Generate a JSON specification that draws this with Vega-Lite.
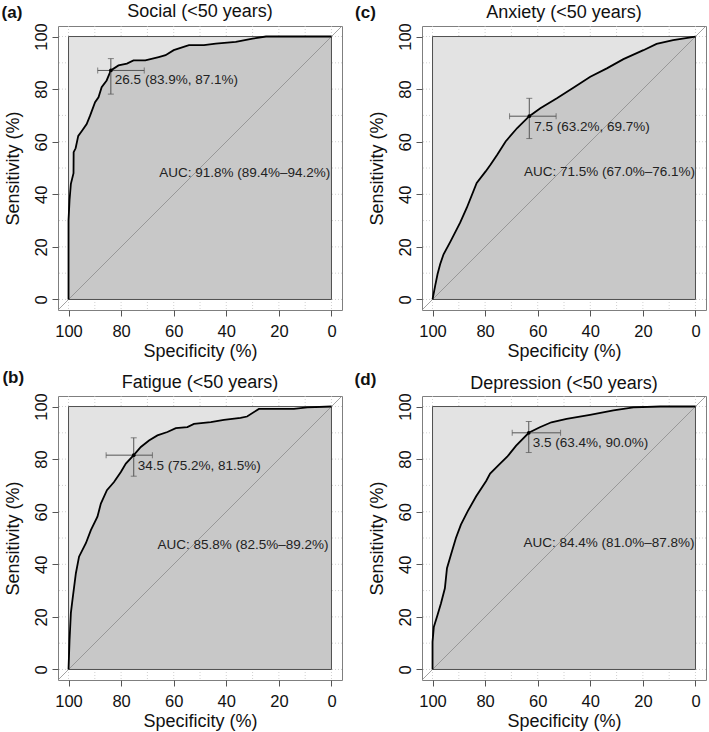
{
"$schema": "https://vega.github.io/schema/vega-lite/v6.json",
"padding": {"left": 1, "top": 2, "right": 0, "bottom": 0},
"background": "white",
"columns": 2,
"bounds": "flush",
"spacing": {"row": 86, "column": 80},
"datasets": {
"grid": [{"v":0},{"v":10},{"v":20},{"v":30},{"v":40},{"v":50},{"v":60},{"v":70},{"v":80},{"v":90},{"v":100}],
"meta": [
{"panel":"a","name":"Social (<50 years)","letter":"(a)","auc":"AUC: 91.8% (89.4%–94.2%)"},
{"panel":"b","name":"Fatigue (<50 years)","letter":"(b)","auc":"AUC: 85.8% (82.5%–89.2%)"},
{"panel":"c","name":"Anxiety (<50 years)","letter":"(c)","auc":"AUC: 71.5% (67.0%–76.1%)"},
{"panel":"d","name":"Depression (<50 years)","letter":"(d)","auc":"AUC: 84.4% (81.0%–87.8%)"}
],
"thr": [
{"panel":"a","spec":83.9,"sens":87.1,"spec_lo":71.2,"spec_hi":88.9,"sens_lo":78.1,"sens_hi":91.6,"label":"26.5 (83.9%, 87.1%)"},
{"panel":"b","spec":75.2,"sens":81.5,"spec_lo":68.1,"spec_hi":85.7,"sens_lo":73.5,"sens_hi":88.1,"label":"34.5 (75.2%, 81.5%)"},
{"panel":"c","spec":63.2,"sens":69.7,"spec_lo":53.0,"spec_hi":70.7,"sens_lo":61.2,"sens_hi":76.5,"label":"7.5 (63.2%, 69.7%)"},
{"panel":"d","spec":63.4,"sens":90.0,"spec_lo":51.3,"spec_hi":69.7,"sens_lo":82.5,"sens_hi":94.3,"label":"3.5 (63.4%, 90.0%)"}
],
"roc": [
{"panel":"a","i":0,"spec":100,"sens":0},{"panel":"a","i":1,"spec":100,"sens":30},{"panel":"a","i":2,"spec":99.6,"sens":38},{"panel":"a","i":3,"spec":99.1,"sens":44},{"panel":"a","i":4,"spec":98.1,"sens":48},{"panel":"a","i":5,"spec":98.05,"sens":56},{"panel":"a","i":6,"spec":97.3,"sens":57.5},{"panel":"a","i":7,"spec":96.3,"sens":62.2},{"panel":"a","i":8,"spec":95,"sens":64},{"panel":"a","i":9,"spec":93.1,"sens":66.7},{"panel":"a","i":10,"spec":91.8,"sens":69.9},{"panel":"a","i":11,"spec":89.9,"sens":75},{"panel":"a","i":12,"spec":88.6,"sens":76.9},{"panel":"a","i":13,"spec":87.4,"sens":80.7},{"panel":"a","i":14,"spec":85.5,"sens":83.3},{"panel":"a","i":15,"spec":83.9,"sens":87.1},{"panel":"a","i":16,"spec":81,"sens":89},{"panel":"a","i":17,"spec":77.8,"sens":89.7},{"panel":"a","i":18,"spec":75.3,"sens":90.9},{"panel":"a","i":19,"spec":70.8,"sens":90.9},{"panel":"a","i":20,"spec":65.7,"sens":92.2},{"panel":"a","i":21,"spec":63.1,"sens":92.9},{"panel":"a","i":22,"spec":60,"sens":94.8},{"panel":"a","i":23,"spec":54.2,"sens":96.7},{"panel":"a","i":24,"spec":48.5,"sens":96.7},{"panel":"a","i":25,"spec":44,"sens":97.3},{"panel":"a","i":26,"spec":36.4,"sens":98},{"panel":"a","i":27,"spec":30,"sens":99.2},{"panel":"a","i":28,"spec":24.9,"sens":100},{"panel":"a","i":29,"spec":0,"sens":100},
{"panel":"c","i":0,"spec":100,"sens":0},{"panel":"c","i":1,"spec":99,"sens":5.2},{"panel":"c","i":2,"spec":98.1,"sens":9.6},{"panel":"c","i":3,"spec":97.1,"sens":13.4},{"panel":"c","i":4,"spec":95.8,"sens":17.2},{"panel":"c","i":5,"spec":93.1,"sens":22.2},{"panel":"c","i":6,"spec":89.5,"sens":29.2},{"panel":"c","i":7,"spec":87,"sens":34.8},{"panel":"c","i":8,"spec":83.2,"sens":44.3},{"panel":"c","i":9,"spec":79.8,"sens":48.7},{"panel":"c","i":10,"spec":77.9,"sens":51.3},{"panel":"c","i":11,"spec":75.4,"sens":55},{"panel":"c","i":12,"spec":72.2,"sens":60.1},{"panel":"c","i":13,"spec":67.8,"sens":65.2},{"panel":"c","i":14,"spec":63.2,"sens":69.7},{"panel":"c","i":15,"spec":59,"sens":72.7},{"panel":"c","i":16,"spec":52.7,"sens":76.5},{"panel":"c","i":17,"spec":46.3,"sens":80.6},{"panel":"c","i":18,"spec":40,"sens":84.7},{"panel":"c","i":19,"spec":33.7,"sens":87.9},{"panel":"c","i":20,"spec":27.4,"sens":91.4},{"panel":"c","i":21,"spec":19.8,"sens":94.8},{"panel":"c","i":22,"spec":14.8,"sens":97.2},{"panel":"c","i":23,"spec":8.5,"sens":98.6},{"panel":"c","i":24,"spec":0,"sens":100},
{"panel":"b","i":0,"spec":100,"sens":0},{"panel":"b","i":1,"spec":99.6,"sens":11.4},{"panel":"b","i":2,"spec":99.1,"sens":21.5},{"panel":"b","i":3,"spec":98.5,"sens":26.5},{"panel":"b","i":4,"spec":97.2,"sens":36.6},{"panel":"b","i":5,"spec":96,"sens":42.9},{"panel":"b","i":6,"spec":93.4,"sens":48},{"panel":"b","i":7,"spec":91.5,"sens":53},{"panel":"b","i":8,"spec":89,"sens":58.1},{"panel":"b","i":9,"spec":87.7,"sens":63.1},{"panel":"b","i":10,"spec":85.4,"sens":68.2},{"panel":"b","i":11,"spec":82.7,"sens":71.3},{"panel":"b","i":12,"spec":80.1,"sens":75.1},{"panel":"b","i":13,"spec":78.2,"sens":78.3},{"panel":"b","i":14,"spec":75.2,"sens":81.5},{"panel":"b","i":15,"spec":72.5,"sens":84.6},{"panel":"b","i":16,"spec":69.4,"sens":87.1},{"panel":"b","i":17,"spec":66.2,"sens":89},{"panel":"b","i":18,"spec":62.4,"sens":90.3},{"panel":"b","i":19,"spec":59.2,"sens":91.8},{"panel":"b","i":20,"spec":54.8,"sens":92.2},{"panel":"b","i":21,"spec":52.3,"sens":93.4},{"panel":"b","i":22,"spec":45.9,"sens":94.1},{"panel":"b","i":23,"spec":40.9,"sens":94.9},{"panel":"b","i":24,"spec":34.6,"sens":95.7},{"panel":"b","i":25,"spec":32.1,"sens":96.2},{"panel":"b","i":26,"spec":27.6,"sens":99.1},{"panel":"b","i":27,"spec":14.3,"sens":99.1},{"panel":"b","i":28,"spec":9.2,"sens":99.7},{"panel":"b","i":29,"spec":0,"sens":100},
{"panel":"d","i":0,"spec":100,"sens":0},{"panel":"d","i":1,"spec":100,"sens":10.5},{"panel":"d","i":2,"spec":99.5,"sens":16.2},{"panel":"d","i":3,"spec":98.1,"sens":20.7},{"panel":"d","i":4,"spec":96.8,"sens":25.1},{"panel":"d","i":5,"spec":95.3,"sens":30.9},{"panel":"d","i":6,"spec":94.5,"sens":38.5},{"panel":"d","i":7,"spec":93,"sens":43.6},{"panel":"d","i":8,"spec":91.1,"sens":50},{"panel":"d","i":9,"spec":89.2,"sens":55.1},{"panel":"d","i":10,"spec":86.6,"sens":60.2},{"panel":"d","i":11,"spec":83.4,"sens":65.9},{"panel":"d","i":12,"spec":79.6,"sens":71.7},{"panel":"d","i":13,"spec":78.1,"sens":74.5},{"panel":"d","i":14,"spec":74.5,"sens":78.1},{"panel":"d","i":15,"spec":71.6,"sens":80.9},{"panel":"d","i":16,"spec":68.2,"sens":85.1},{"panel":"d","i":17,"spec":63.4,"sens":90},{"panel":"d","i":18,"spec":59.2,"sens":92.1},{"panel":"d","i":19,"spec":54.8,"sens":94},{"panel":"d","i":20,"spec":49,"sens":95.3},{"panel":"d","i":21,"spec":40.1,"sens":96.8},{"panel":"d","i":22,"spec":31.2,"sens":98.5},{"panel":"d","i":23,"spec":23.6,"sens":99.7},{"panel":"d","i":24,"spec":13.4,"sens":100},{"panel":"d","i":25,"spec":0,"sens":100}
]
},
"concat": [
{"width": 284, "height": 284,
"layer": [
{"data": {"name": "grid"}, "mark": {"type": "rule", "color": "#c4c4c4", "strokeDash": [1, 2], "strokeWidth": 0.8}, "encoding": {"x": {"field": "v", "type": "quantitative", "title": "Specificity (%)", "scale": {"domain": [-4, 104], "reverse": true, "nice": false, "zero": false}, "axis": {"values": [0, 20, 40, 60, 80, 100]}}}},
{"data": {"name": "grid"}, "mark": {"type": "rule", "color": "#c4c4c4", "strokeDash": [1, 2], "strokeWidth": 0.8}, "encoding": {"y": {"field": "v", "type": "quantitative", "title": "Sensitivity (%)", "scale": {"domain": [-4, 104], "nice": false, "zero": false}, "axis": {"values": [0, 20, 40, 60, 80, 100]}}}},
{"data": {"name": "meta"}, "transform": [{"filter": "datum.panel === 'a'"}], "mark": {"type": "rect", "fill": "#e3e3e3"}, "encoding": {"x": {"datum": 0}, "x2": {"datum": 100}, "y": {"datum": 0}, "y2": {"datum": 100}}},
{"data": {"name": "roc"}, "transform": [{"filter": "datum.panel === 'a'"}], "mark": {"type": "area", "fill": "#c8c8c8"}, "encoding": {"x": {"field": "spec", "type": "quantitative", "title": "Specificity (%)"}, "y": {"field": "sens", "type": "quantitative", "title": "Sensitivity (%)"}, "y2": {"datum": 0}}},
{"data": {"name": "meta"}, "transform": [{"filter": "datum.panel === 'a'"}], "mark": {"type": "rect", "fillOpacity": 0, "stroke": "#505050", "strokeWidth": 1}, "encoding": {"x": {"datum": 0}, "x2": {"datum": 100}, "y": {"datum": 0}, "y2": {"datum": 100}}},
{"data": {"name": "meta"}, "transform": [{"filter": "datum.panel === 'a'"}], "mark": {"type": "rule", "color": "#8c8c8c", "strokeWidth": 0.8}, "encoding": {"x": {"datum": 104}, "y": {"datum": -4}, "x2": {"datum": -4}, "y2": {"datum": 104}}},
{"data": {"name": "roc"}, "transform": [{"filter": "datum.panel === 'a'"}], "mark": {"type": "line", "color": "black", "strokeWidth": 1.8}, "encoding": {"x": {"field": "spec", "type": "quantitative", "title": "Specificity (%)"}, "y": {"field": "sens", "type": "quantitative", "title": "Sensitivity (%)"}, "order": {"field": "i", "type": "quantitative"}}},
{"data": {"name": "thr"}, "transform": [{"filter": "datum.panel === 'a'"}], "mark": {"type": "rule", "color": "#555555", "strokeWidth": 1}, "encoding": {"x": {"field": "spec_lo", "type": "quantitative", "title": "Specificity (%)"}, "x2": {"field": "spec_hi"}, "y": {"field": "sens", "type": "quantitative", "title": "Sensitivity (%)"}}},
{"data": {"name": "thr"}, "transform": [{"filter": "datum.panel === 'a'"}], "mark": {"type": "rule", "color": "#555555", "strokeWidth": 1}, "encoding": {"x": {"field": "spec", "type": "quantitative", "title": "Specificity (%)"}, "y": {"field": "sens_lo", "type": "quantitative", "title": "Sensitivity (%)"}, "y2": {"field": "sens_hi"}}},
{"data": {"name": "thr"}, "transform": [{"filter": "datum.panel === 'a'"}], "mark": {"type": "tick", "orient": "vertical", "color": "#555555", "size": 6, "thickness": 1}, "encoding": {"x": {"field": "spec_lo", "type": "quantitative", "title": "Specificity (%)"}, "y": {"field": "sens", "type": "quantitative", "title": "Sensitivity (%)"}}},
{"data": {"name": "thr"}, "transform": [{"filter": "datum.panel === 'a'"}], "mark": {"type": "tick", "orient": "vertical", "color": "#555555", "size": 6, "thickness": 1}, "encoding": {"x": {"field": "spec_hi", "type": "quantitative", "title": "Specificity (%)"}, "y": {"field": "sens", "type": "quantitative", "title": "Sensitivity (%)"}}},
{"data": {"name": "thr"}, "transform": [{"filter": "datum.panel === 'a'"}], "mark": {"type": "tick", "orient": "horizontal", "color": "#555555", "size": 6, "thickness": 1}, "encoding": {"x": {"field": "spec", "type": "quantitative", "title": "Specificity (%)"}, "y": {"field": "sens_lo", "type": "quantitative", "title": "Sensitivity (%)"}}},
{"data": {"name": "thr"}, "transform": [{"filter": "datum.panel === 'a'"}], "mark": {"type": "tick", "orient": "horizontal", "color": "#555555", "size": 6, "thickness": 1}, "encoding": {"x": {"field": "spec", "type": "quantitative", "title": "Specificity (%)"}, "y": {"field": "sens_hi", "type": "quantitative", "title": "Sensitivity (%)"}}},
{"data": {"name": "thr"}, "transform": [{"filter": "datum.panel === 'a'"}], "mark": {"type": "point", "filled": true, "color": "black", "size": 14, "opacity": 1}, "encoding": {"x": {"field": "spec", "type": "quantitative", "title": "Specificity (%)"}, "y": {"field": "sens", "type": "quantitative", "title": "Sensitivity (%)"}}},
{"data": {"name": "thr"}, "transform": [{"filter": "datum.panel === 'a'"}], "mark": {"type": "text", "align": "left", "baseline": "middle", "dx": 4, "dy": 10, "fontSize": 13.5, "color": "#222222"}, "encoding": {"x": {"field": "spec", "type": "quantitative", "title": "Specificity (%)"}, "y": {"field": "sens", "type": "quantitative", "title": "Sensitivity (%)"}, "text": {"field": "label"}}},
{"data": {"name": "meta"}, "transform": [{"filter": "datum.panel === 'a'"}], "mark": {"type": "text", "align": "left", "baseline": "middle", "fontSize": 13.5, "color": "#222222"}, "encoding": {"x": {"datum": 65.5}, "y": {"datum": 48}, "text": {"field": "auc"}}},
{"data": {"name": "meta"}, "transform": [{"filter": "datum.panel === 'a'"}], "mark": {"type": "text", "align": "center", "baseline": "middle", "fontSize": 18, "color": "#111111"}, "encoding": {"x": {"datum": 50}, "y": {"datum": 109.2}, "text": {"field": "name"}}},
{"data": {"name": "meta"}, "transform": [{"filter": "datum.panel === 'a'"}], "mark": {"type": "text", "align": "center", "baseline": "middle", "fontSize": 17, "fontWeight": "bold", "color": "#111111"}, "encoding": {"x": {"datum": 121.5}, "y": {"datum": 108.8}, "text": {"field": "letter"}}}
]},
{"width": 284, "height": 284,
"layer": [
{"data": {"name": "grid"}, "mark": {"type": "rule", "color": "#c4c4c4", "strokeDash": [1, 2], "strokeWidth": 0.8}, "encoding": {"x": {"field": "v", "type": "quantitative", "title": "Specificity (%)", "scale": {"domain": [-4, 104], "reverse": true, "nice": false, "zero": false}, "axis": {"values": [0, 20, 40, 60, 80, 100]}}}},
{"data": {"name": "grid"}, "mark": {"type": "rule", "color": "#c4c4c4", "strokeDash": [1, 2], "strokeWidth": 0.8}, "encoding": {"y": {"field": "v", "type": "quantitative", "title": "Sensitivity (%)", "scale": {"domain": [-4, 104], "nice": false, "zero": false}, "axis": {"values": [0, 20, 40, 60, 80, 100]}}}},
{"data": {"name": "meta"}, "transform": [{"filter": "datum.panel === 'c'"}], "mark": {"type": "rect", "fill": "#e3e3e3"}, "encoding": {"x": {"datum": 0}, "x2": {"datum": 100}, "y": {"datum": 0}, "y2": {"datum": 100}}},
{"data": {"name": "roc"}, "transform": [{"filter": "datum.panel === 'c'"}], "mark": {"type": "area", "fill": "#c8c8c8"}, "encoding": {"x": {"field": "spec", "type": "quantitative", "title": "Specificity (%)"}, "y": {"field": "sens", "type": "quantitative", "title": "Sensitivity (%)"}, "y2": {"datum": 0}}},
{"data": {"name": "meta"}, "transform": [{"filter": "datum.panel === 'c'"}], "mark": {"type": "rect", "fillOpacity": 0, "stroke": "#505050", "strokeWidth": 1}, "encoding": {"x": {"datum": 0}, "x2": {"datum": 100}, "y": {"datum": 0}, "y2": {"datum": 100}}},
{"data": {"name": "meta"}, "transform": [{"filter": "datum.panel === 'c'"}], "mark": {"type": "rule", "color": "#8c8c8c", "strokeWidth": 0.8}, "encoding": {"x": {"datum": 104}, "y": {"datum": -4}, "x2": {"datum": -4}, "y2": {"datum": 104}}},
{"data": {"name": "roc"}, "transform": [{"filter": "datum.panel === 'c'"}], "mark": {"type": "line", "color": "black", "strokeWidth": 1.8}, "encoding": {"x": {"field": "spec", "type": "quantitative", "title": "Specificity (%)"}, "y": {"field": "sens", "type": "quantitative", "title": "Sensitivity (%)"}, "order": {"field": "i", "type": "quantitative"}}},
{"data": {"name": "thr"}, "transform": [{"filter": "datum.panel === 'c'"}], "mark": {"type": "rule", "color": "#555555", "strokeWidth": 1}, "encoding": {"x": {"field": "spec_lo", "type": "quantitative", "title": "Specificity (%)"}, "x2": {"field": "spec_hi"}, "y": {"field": "sens", "type": "quantitative", "title": "Sensitivity (%)"}}},
{"data": {"name": "thr"}, "transform": [{"filter": "datum.panel === 'c'"}], "mark": {"type": "rule", "color": "#555555", "strokeWidth": 1}, "encoding": {"x": {"field": "spec", "type": "quantitative", "title": "Specificity (%)"}, "y": {"field": "sens_lo", "type": "quantitative", "title": "Sensitivity (%)"}, "y2": {"field": "sens_hi"}}},
{"data": {"name": "thr"}, "transform": [{"filter": "datum.panel === 'c'"}], "mark": {"type": "tick", "orient": "vertical", "color": "#555555", "size": 6, "thickness": 1}, "encoding": {"x": {"field": "spec_lo", "type": "quantitative", "title": "Specificity (%)"}, "y": {"field": "sens", "type": "quantitative", "title": "Sensitivity (%)"}}},
{"data": {"name": "thr"}, "transform": [{"filter": "datum.panel === 'c'"}], "mark": {"type": "tick", "orient": "vertical", "color": "#555555", "size": 6, "thickness": 1}, "encoding": {"x": {"field": "spec_hi", "type": "quantitative", "title": "Specificity (%)"}, "y": {"field": "sens", "type": "quantitative", "title": "Sensitivity (%)"}}},
{"data": {"name": "thr"}, "transform": [{"filter": "datum.panel === 'c'"}], "mark": {"type": "tick", "orient": "horizontal", "color": "#555555", "size": 6, "thickness": 1}, "encoding": {"x": {"field": "spec", "type": "quantitative", "title": "Specificity (%)"}, "y": {"field": "sens_lo", "type": "quantitative", "title": "Sensitivity (%)"}}},
{"data": {"name": "thr"}, "transform": [{"filter": "datum.panel === 'c'"}], "mark": {"type": "tick", "orient": "horizontal", "color": "#555555", "size": 6, "thickness": 1}, "encoding": {"x": {"field": "spec", "type": "quantitative", "title": "Specificity (%)"}, "y": {"field": "sens_hi", "type": "quantitative", "title": "Sensitivity (%)"}}},
{"data": {"name": "thr"}, "transform": [{"filter": "datum.panel === 'c'"}], "mark": {"type": "point", "filled": true, "color": "black", "size": 14, "opacity": 1}, "encoding": {"x": {"field": "spec", "type": "quantitative", "title": "Specificity (%)"}, "y": {"field": "sens", "type": "quantitative", "title": "Sensitivity (%)"}}},
{"data": {"name": "thr"}, "transform": [{"filter": "datum.panel === 'c'"}], "mark": {"type": "text", "align": "left", "baseline": "middle", "dx": 5, "dy": 11, "fontSize": 13.5, "color": "#222222"}, "encoding": {"x": {"field": "spec", "type": "quantitative", "title": "Specificity (%)"}, "y": {"field": "sens", "type": "quantitative", "title": "Sensitivity (%)"}, "text": {"field": "label"}}},
{"data": {"name": "meta"}, "transform": [{"filter": "datum.panel === 'c'"}], "mark": {"type": "text", "align": "left", "baseline": "middle", "fontSize": 13.5, "color": "#222222"}, "encoding": {"x": {"datum": 65.2}, "y": {"datum": 48.5}, "text": {"field": "auc"}}},
{"data": {"name": "meta"}, "transform": [{"filter": "datum.panel === 'c'"}], "mark": {"type": "text", "align": "center", "baseline": "middle", "fontSize": 18, "color": "#111111"}, "encoding": {"x": {"datum": 50}, "y": {"datum": 109}, "text": {"field": "name"}}},
{"data": {"name": "meta"}, "transform": [{"filter": "datum.panel === 'c'"}], "mark": {"type": "text", "align": "center", "baseline": "middle", "fontSize": 17, "fontWeight": "bold", "color": "#111111"}, "encoding": {"x": {"datum": 125.5}, "y": {"datum": 108.8}, "text": {"field": "letter"}}}
]},
{"width": 284, "height": 284,
"layer": [
{"data": {"name": "grid"}, "mark": {"type": "rule", "color": "#c4c4c4", "strokeDash": [1, 2], "strokeWidth": 0.8}, "encoding": {"x": {"field": "v", "type": "quantitative", "title": "Specificity (%)", "scale": {"domain": [-4, 104], "reverse": true, "nice": false, "zero": false}, "axis": {"values": [0, 20, 40, 60, 80, 100]}}}},
{"data": {"name": "grid"}, "mark": {"type": "rule", "color": "#c4c4c4", "strokeDash": [1, 2], "strokeWidth": 0.8}, "encoding": {"y": {"field": "v", "type": "quantitative", "title": "Sensitivity (%)", "scale": {"domain": [-4, 104], "nice": false, "zero": false}, "axis": {"values": [0, 20, 40, 60, 80, 100]}}}},
{"data": {"name": "meta"}, "transform": [{"filter": "datum.panel === 'b'"}], "mark": {"type": "rect", "fill": "#e3e3e3"}, "encoding": {"x": {"datum": 0}, "x2": {"datum": 100}, "y": {"datum": 0}, "y2": {"datum": 100}}},
{"data": {"name": "roc"}, "transform": [{"filter": "datum.panel === 'b'"}], "mark": {"type": "area", "fill": "#c8c8c8"}, "encoding": {"x": {"field": "spec", "type": "quantitative", "title": "Specificity (%)"}, "y": {"field": "sens", "type": "quantitative", "title": "Sensitivity (%)"}, "y2": {"datum": 0}}},
{"data": {"name": "meta"}, "transform": [{"filter": "datum.panel === 'b'"}], "mark": {"type": "rect", "fillOpacity": 0, "stroke": "#505050", "strokeWidth": 1}, "encoding": {"x": {"datum": 0}, "x2": {"datum": 100}, "y": {"datum": 0}, "y2": {"datum": 100}}},
{"data": {"name": "meta"}, "transform": [{"filter": "datum.panel === 'b'"}], "mark": {"type": "rule", "color": "#8c8c8c", "strokeWidth": 0.8}, "encoding": {"x": {"datum": 104}, "y": {"datum": -4}, "x2": {"datum": -4}, "y2": {"datum": 104}}},
{"data": {"name": "roc"}, "transform": [{"filter": "datum.panel === 'b'"}], "mark": {"type": "line", "color": "black", "strokeWidth": 1.8}, "encoding": {"x": {"field": "spec", "type": "quantitative", "title": "Specificity (%)"}, "y": {"field": "sens", "type": "quantitative", "title": "Sensitivity (%)"}, "order": {"field": "i", "type": "quantitative"}}},
{"data": {"name": "thr"}, "transform": [{"filter": "datum.panel === 'b'"}], "mark": {"type": "rule", "color": "#555555", "strokeWidth": 1}, "encoding": {"x": {"field": "spec_lo", "type": "quantitative", "title": "Specificity (%)"}, "x2": {"field": "spec_hi"}, "y": {"field": "sens", "type": "quantitative", "title": "Sensitivity (%)"}}},
{"data": {"name": "thr"}, "transform": [{"filter": "datum.panel === 'b'"}], "mark": {"type": "rule", "color": "#555555", "strokeWidth": 1}, "encoding": {"x": {"field": "spec", "type": "quantitative", "title": "Specificity (%)"}, "y": {"field": "sens_lo", "type": "quantitative", "title": "Sensitivity (%)"}, "y2": {"field": "sens_hi"}}},
{"data": {"name": "thr"}, "transform": [{"filter": "datum.panel === 'b'"}], "mark": {"type": "tick", "orient": "vertical", "color": "#555555", "size": 6, "thickness": 1}, "encoding": {"x": {"field": "spec_lo", "type": "quantitative", "title": "Specificity (%)"}, "y": {"field": "sens", "type": "quantitative", "title": "Sensitivity (%)"}}},
{"data": {"name": "thr"}, "transform": [{"filter": "datum.panel === 'b'"}], "mark": {"type": "tick", "orient": "vertical", "color": "#555555", "size": 6, "thickness": 1}, "encoding": {"x": {"field": "spec_hi", "type": "quantitative", "title": "Specificity (%)"}, "y": {"field": "sens", "type": "quantitative", "title": "Sensitivity (%)"}}},
{"data": {"name": "thr"}, "transform": [{"filter": "datum.panel === 'b'"}], "mark": {"type": "tick", "orient": "horizontal", "color": "#555555", "size": 6, "thickness": 1}, "encoding": {"x": {"field": "spec", "type": "quantitative", "title": "Specificity (%)"}, "y": {"field": "sens_lo", "type": "quantitative", "title": "Sensitivity (%)"}}},
{"data": {"name": "thr"}, "transform": [{"filter": "datum.panel === 'b'"}], "mark": {"type": "tick", "orient": "horizontal", "color": "#555555", "size": 6, "thickness": 1}, "encoding": {"x": {"field": "spec", "type": "quantitative", "title": "Specificity (%)"}, "y": {"field": "sens_hi", "type": "quantitative", "title": "Sensitivity (%)"}}},
{"data": {"name": "thr"}, "transform": [{"filter": "datum.panel === 'b'"}], "mark": {"type": "point", "filled": true, "color": "black", "size": 14, "opacity": 1}, "encoding": {"x": {"field": "spec", "type": "quantitative", "title": "Specificity (%)"}, "y": {"field": "sens", "type": "quantitative", "title": "Sensitivity (%)"}}},
{"data": {"name": "thr"}, "transform": [{"filter": "datum.panel === 'b'"}], "mark": {"type": "text", "align": "left", "baseline": "middle", "dx": 4, "dy": 11, "fontSize": 13.5, "color": "#222222"}, "encoding": {"x": {"field": "spec", "type": "quantitative", "title": "Specificity (%)"}, "y": {"field": "sens", "type": "quantitative", "title": "Sensitivity (%)"}, "text": {"field": "label"}}},
{"data": {"name": "meta"}, "transform": [{"filter": "datum.panel === 'b'"}], "mark": {"type": "text", "align": "left", "baseline": "middle", "fontSize": 13.5, "color": "#222222"}, "encoding": {"x": {"datum": 66.2}, "y": {"datum": 47.3}, "text": {"field": "auc"}}},
{"data": {"name": "meta"}, "transform": [{"filter": "datum.panel === 'b'"}], "mark": {"type": "text", "align": "center", "baseline": "middle", "fontSize": 18, "color": "#111111"}, "encoding": {"x": {"datum": 50}, "y": {"datum": 109}, "text": {"field": "name"}}},
{"data": {"name": "meta"}, "transform": [{"filter": "datum.panel === 'b'"}], "mark": {"type": "text", "align": "center", "baseline": "middle", "fontSize": 17, "fontWeight": "bold", "color": "#111111"}, "encoding": {"x": {"datum": 121}, "y": {"datum": 110.8}, "text": {"field": "letter"}}}
]},
{"width": 284, "height": 284,
"layer": [
{"data": {"name": "grid"}, "mark": {"type": "rule", "color": "#c4c4c4", "strokeDash": [1, 2], "strokeWidth": 0.8}, "encoding": {"x": {"field": "v", "type": "quantitative", "title": "Specificity (%)", "scale": {"domain": [-4, 104], "reverse": true, "nice": false, "zero": false}, "axis": {"values": [0, 20, 40, 60, 80, 100]}}}},
{"data": {"name": "grid"}, "mark": {"type": "rule", "color": "#c4c4c4", "strokeDash": [1, 2], "strokeWidth": 0.8}, "encoding": {"y": {"field": "v", "type": "quantitative", "title": "Sensitivity (%)", "scale": {"domain": [-4, 104], "nice": false, "zero": false}, "axis": {"values": [0, 20, 40, 60, 80, 100]}}}},
{"data": {"name": "meta"}, "transform": [{"filter": "datum.panel === 'd'"}], "mark": {"type": "rect", "fill": "#e3e3e3"}, "encoding": {"x": {"datum": 0}, "x2": {"datum": 100}, "y": {"datum": 0}, "y2": {"datum": 100}}},
{"data": {"name": "roc"}, "transform": [{"filter": "datum.panel === 'd'"}], "mark": {"type": "area", "fill": "#c8c8c8"}, "encoding": {"x": {"field": "spec", "type": "quantitative", "title": "Specificity (%)"}, "y": {"field": "sens", "type": "quantitative", "title": "Sensitivity (%)"}, "y2": {"datum": 0}}},
{"data": {"name": "meta"}, "transform": [{"filter": "datum.panel === 'd'"}], "mark": {"type": "rect", "fillOpacity": 0, "stroke": "#505050", "strokeWidth": 1}, "encoding": {"x": {"datum": 0}, "x2": {"datum": 100}, "y": {"datum": 0}, "y2": {"datum": 100}}},
{"data": {"name": "meta"}, "transform": [{"filter": "datum.panel === 'd'"}], "mark": {"type": "rule", "color": "#8c8c8c", "strokeWidth": 0.8}, "encoding": {"x": {"datum": 104}, "y": {"datum": -4}, "x2": {"datum": -4}, "y2": {"datum": 104}}},
{"data": {"name": "roc"}, "transform": [{"filter": "datum.panel === 'd'"}], "mark": {"type": "line", "color": "black", "strokeWidth": 1.8}, "encoding": {"x": {"field": "spec", "type": "quantitative", "title": "Specificity (%)"}, "y": {"field": "sens", "type": "quantitative", "title": "Sensitivity (%)"}, "order": {"field": "i", "type": "quantitative"}}},
{"data": {"name": "thr"}, "transform": [{"filter": "datum.panel === 'd'"}], "mark": {"type": "rule", "color": "#555555", "strokeWidth": 1}, "encoding": {"x": {"field": "spec_lo", "type": "quantitative", "title": "Specificity (%)"}, "x2": {"field": "spec_hi"}, "y": {"field": "sens", "type": "quantitative", "title": "Sensitivity (%)"}}},
{"data": {"name": "thr"}, "transform": [{"filter": "datum.panel === 'd'"}], "mark": {"type": "rule", "color": "#555555", "strokeWidth": 1}, "encoding": {"x": {"field": "spec", "type": "quantitative", "title": "Specificity (%)"}, "y": {"field": "sens_lo", "type": "quantitative", "title": "Sensitivity (%)"}, "y2": {"field": "sens_hi"}}},
{"data": {"name": "thr"}, "transform": [{"filter": "datum.panel === 'd'"}], "mark": {"type": "tick", "orient": "vertical", "color": "#555555", "size": 6, "thickness": 1}, "encoding": {"x": {"field": "spec_lo", "type": "quantitative", "title": "Specificity (%)"}, "y": {"field": "sens", "type": "quantitative", "title": "Sensitivity (%)"}}},
{"data": {"name": "thr"}, "transform": [{"filter": "datum.panel === 'd'"}], "mark": {"type": "tick", "orient": "vertical", "color": "#555555", "size": 6, "thickness": 1}, "encoding": {"x": {"field": "spec_hi", "type": "quantitative", "title": "Specificity (%)"}, "y": {"field": "sens", "type": "quantitative", "title": "Sensitivity (%)"}}},
{"data": {"name": "thr"}, "transform": [{"filter": "datum.panel === 'd'"}], "mark": {"type": "tick", "orient": "horizontal", "color": "#555555", "size": 6, "thickness": 1}, "encoding": {"x": {"field": "spec", "type": "quantitative", "title": "Specificity (%)"}, "y": {"field": "sens_lo", "type": "quantitative", "title": "Sensitivity (%)"}}},
{"data": {"name": "thr"}, "transform": [{"filter": "datum.panel === 'd'"}], "mark": {"type": "tick", "orient": "horizontal", "color": "#555555", "size": 6, "thickness": 1}, "encoding": {"x": {"field": "spec", "type": "quantitative", "title": "Specificity (%)"}, "y": {"field": "sens_hi", "type": "quantitative", "title": "Sensitivity (%)"}}},
{"data": {"name": "thr"}, "transform": [{"filter": "datum.panel === 'd'"}], "mark": {"type": "point", "filled": true, "color": "black", "size": 14, "opacity": 1}, "encoding": {"x": {"field": "spec", "type": "quantitative", "title": "Specificity (%)"}, "y": {"field": "sens", "type": "quantitative", "title": "Sensitivity (%)"}}},
{"data": {"name": "thr"}, "transform": [{"filter": "datum.panel === 'd'"}], "mark": {"type": "text", "align": "left", "baseline": "middle", "dx": 4, "dy": 10, "fontSize": 13.5, "color": "#222222"}, "encoding": {"x": {"field": "spec", "type": "quantitative", "title": "Specificity (%)"}, "y": {"field": "sens", "type": "quantitative", "title": "Sensitivity (%)"}, "text": {"field": "label"}}},
{"data": {"name": "meta"}, "transform": [{"filter": "datum.panel === 'd'"}], "mark": {"type": "text", "align": "left", "baseline": "middle", "fontSize": 13.5, "color": "#222222"}, "encoding": {"x": {"datum": 65.4}, "y": {"datum": 48.1}, "text": {"field": "auc"}}},
{"data": {"name": "meta"}, "transform": [{"filter": "datum.panel === 'd'"}], "mark": {"type": "text", "align": "center", "baseline": "middle", "fontSize": 18, "color": "#111111"}, "encoding": {"x": {"datum": 50}, "y": {"datum": 108.6}, "text": {"field": "name"}}},
{"data": {"name": "meta"}, "transform": [{"filter": "datum.panel === 'd'"}], "mark": {"type": "text", "align": "center", "baseline": "middle", "fontSize": 17, "fontWeight": "bold", "color": "#111111"}, "encoding": {"x": {"datum": 125.5}, "y": {"datum": 110.2}, "text": {"field": "letter"}}}
]}
],
"config": {
"font": "Liberation Sans",
"view": {"stroke": "#7f7f7f", "strokeWidth": 1},
"axis": {"domain": false, "grid": false, "tickColor": "#555555", "tickSize": 6, "labelFontSize": 16.5, "labelColor": "#111111", "labelFont": "Liberation Sans", "labelFlush": false, "labelPadding": 3, "titleFont": "Liberation Sans", "titleFontSize": 18, "titleFontWeight": "normal", "titleColor": "#111111", "titlePadding": 6},
"axisX": {"labelPadding": 7, "titlePadding": 3},
"axisY": {"labelAngle": -90, "labelAlign": "center", "labelBaseline": "bottom", "titlePadding": 11},
"text": {"font": "Liberation Sans"}
}
}
